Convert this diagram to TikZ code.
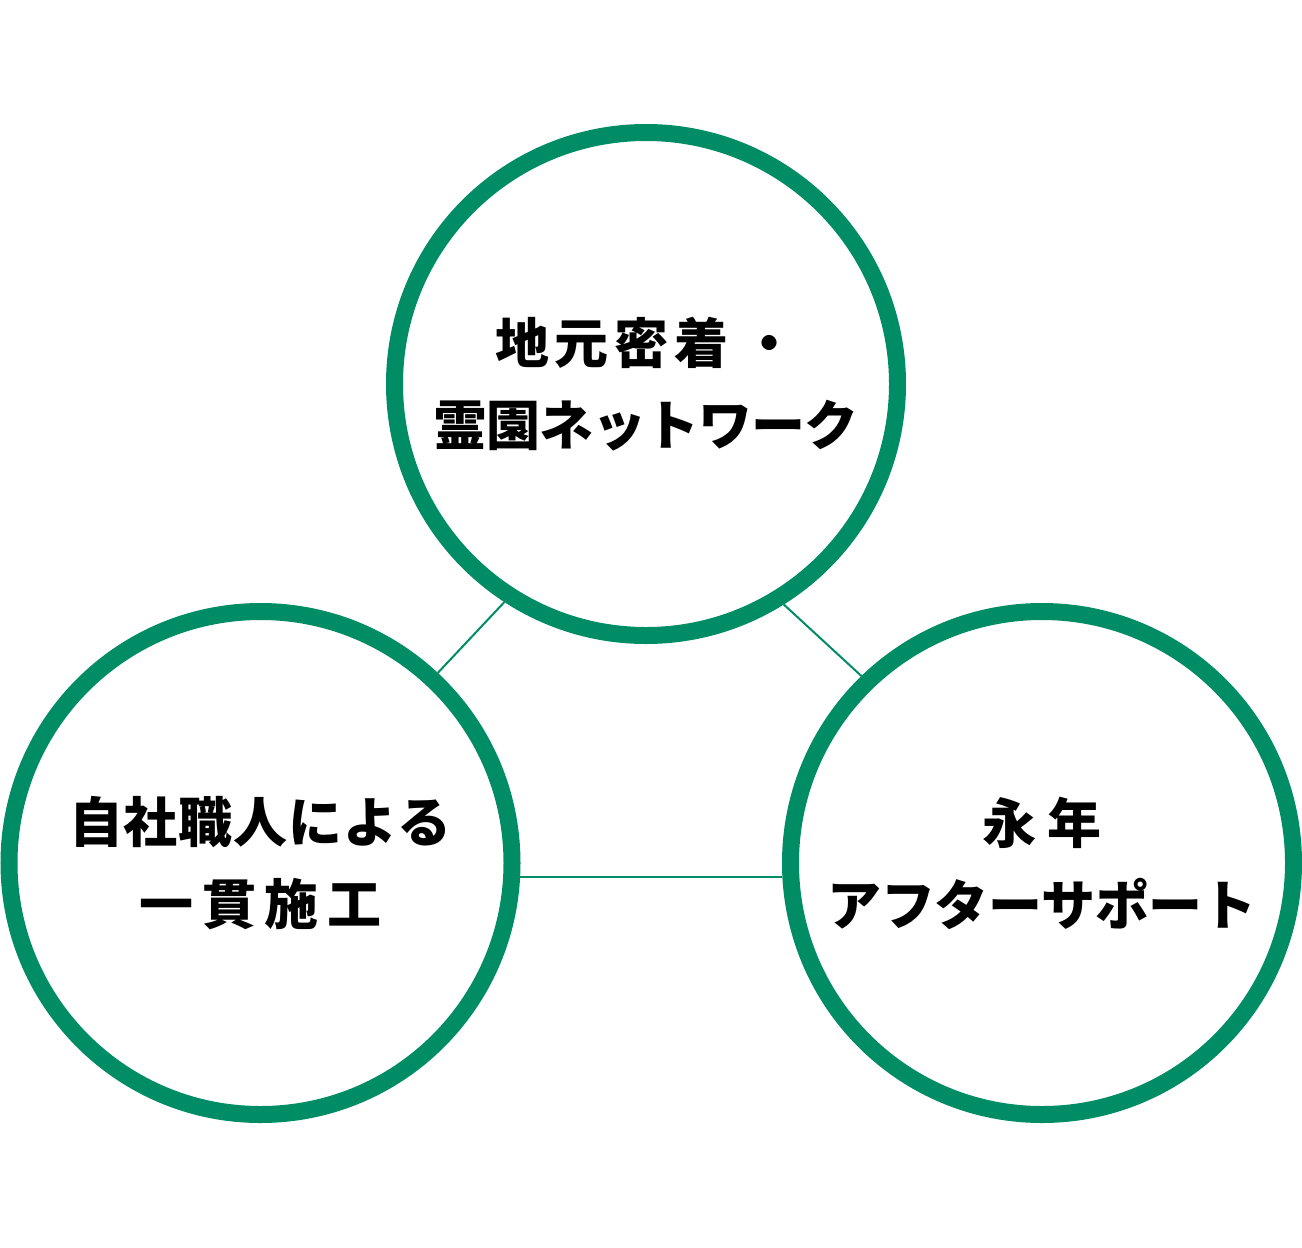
\documentclass[tikz,border=0pt]{standalone}
\usepackage{fontspec}
\newfontfamily\jpbase{Noto Sans CJK JP}
\newcommand\jpfont{\jpbase\bfseries}
\newdimen\letsp
\newcommand\lk{\kern\letsp}
\definecolor{ringgreen}{RGB}{0,140,100}
\tikzset{
  ring/.style={circle, draw=ringgreen, line width=17pt, minimum size=503pt, inner sep=0pt,
    align=center, font=\jpfont\fontsize{54}{82}\selectfont},
  link/.style={draw=ringgreen, line width=2pt}
}
\begin{document}
\begin{tikzpicture}[x=1pt,y=-1pt]
\useasboundingbox (0,0) rectangle (1302,1248);
\node[ring] (top) at (646,384) {\letsp=6pt 地\lk 元\lk 密\lk 着\lk\kern8pt ・\\\letsp=-1pt 霊\lk 園\lk ネ\lk ッ\lk ト\lk ワ\lk ー\lk ク};
\node[ring] (left) at (260.5,863) {\letsp=0.8pt 自\lk 社\lk 職\lk 人\lk に\lk よ\lk る\\\letsp=8.5pt 一\lk 貫\lk 施\lk 工};
\node[ring] (right) at (1042,863) {\letsp=12pt 永\lk 年\\\letsp=-0.5pt ア\lk フ\lk タ\lk ー\lk サ\lk ポ\lk ー\lk ト};
\coordinate (hl) at (left.357.8);
\draw[link] (top.237.6) -- (left.47.3);
\draw[link] (top.302.4) -- (right.134.5);
\draw[link] (hl) -- (hl -| right.182.2);
\end{tikzpicture}
\end{document}
